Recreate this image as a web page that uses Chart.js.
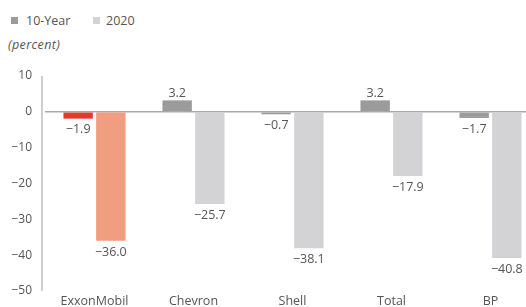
<!DOCTYPE html>
<html>
<head>
<meta charset="utf-8">
<script src="https://cdn.jsdelivr.net/npm/chart.js@4"></script>
<style>
  body { margin: 0; background: #fff; font-family: "Open Sans", sans-serif; }
  #wrap { position: relative; width: 526px; height: 307px; overflow: hidden; }
  .lg { position: absolute; top: 12px; font-size: 12.5px; color: #555; line-height: 17px; }
  .sw { position: absolute; top: 17px; width: 7px; height: 7px; }
  #unit { position: absolute; left: 8px; top: 36px; font-size: 12.5px; font-style: italic; color: #555; letter-spacing: 0.4px; }
  #c { position: absolute; left: 0; top: 0; }
</style>
</head>
<body>
<div id="wrap">
  <div class="sw" style="left:11px; background:#9b9b9b"></div>
  <div class="lg" style="left:26px">10-Year</div>
  <div class="sw" style="left:93px; background:#d3d3d5"></div>
  <div class="lg" style="left:106px">2020</div>
  <div id="unit">(percent)</div>
  <canvas id="c" width="540" height="319"></canvas>
</div>
<script>
// data
var companies = ['ExxonMobil', 'Chevron', 'Shell', 'Total', 'BP'];
var tenYear = [-1.9, 3.2, -0.7, 3.2, -1.7];
var year2020 = [-36.0, -25.7, -38.1, -17.9, -40.8];
var yTicks = [10, 0, -10, -20, -30, -40, -50];

// ExxonMobil is highlighted in red
var tenYearColors = ['#e23b2e', '#9b9b9b', '#9b9b9b', '#9b9b9b', '#9b9b9b'];
var year2020Colors = ['#f09d80', '#d3d3d5', '#d3d3d5', '#d3d3d5', '#d3d3d5'];

function fmt(v) {
    var s = Math.abs(v).toFixed(1);
    return v < 0 ? '\u2212' + s : s;
}

// y axis line sits a little left of the first bar group
var axisLine = {
    id: 'axisLine',
    beforeDatasetsDraw: function(chart) {
        var a = chart.chartArea, ctx = chart.ctx;
        ctx.save();
        ctx.strokeStyle = '#cfcfcf';
        ctx.lineWidth = 2;
        ctx.beginPath();
        ctx.moveTo(a.left - 3, a.top);
        ctx.lineTo(a.left - 3, a.bottom);
        ctx.stroke();
        ctx.restore();
    }
};

// values above positive bars, below negative ones
var valueLabels = {
    id: 'valueLabels',
    afterDatasetsDraw: function(chart) {
        var ctx = chart.ctx;
        ctx.save();
        ctx.font = '12.5px "Open Sans", sans-serif';
        ctx.fillStyle = '#555';
        ctx.textAlign = 'center';
        chart.data.datasets.forEach(function(ds, i) {
            chart.getDatasetMeta(i).data.forEach(function(bar, j) {
                var v = ds.data[j];
                if (v >= 0) {
                    ctx.textBaseline = 'bottom';
                    ctx.fillText(fmt(v), bar.x, bar.y - 1);
                } else {
                    ctx.textBaseline = 'top';
                    ctx.fillText(fmt(v), bar.x, bar.y + 5);
                }
            });
        });
        ctx.restore();
    }
};

new Chart(document.getElementById('c'), {
    type: 'bar',
    data: {
        labels: companies,
        datasets: [
            { label: '10-Year', data: tenYear, backgroundColor: tenYearColors },
            { label: '2020', data: year2020, backgroundColor: year2020Colors }
        ]
    },
    options: {
        responsive: false,
        animation: false,
        layout: { padding: { top: 76, right: 0, left: 0, bottom: 0 } },
        datasets: { bar: { barPercentage: 0.9, categoryPercentage: 0.66 } },
        plugins: { legend: { display: false }, tooltip: { enabled: false } },
        scales: {
            x: {
                afterFit: function(s) { s.height = 28; },
                grid: { display: false, drawTicks: false },
                border: { display: false },
                ticks: { color: '#555', font: { family: 'Open Sans', size: 12.5 }, padding: 3 }
            },
            y: {
                min: -50,
                max: 10,
                afterFit: function(s) { s.width = 45; },
                afterBuildTicks: function(s) { s.ticks = yTicks.map(function(v) { return { value: v }; }); },
                border: { display: false },
                grid: {
                    drawTicks: false,
                    color: function(c) { return c.tick && c.tick.value === 0 ? '#a9a9a9' : 'rgba(0,0,0,0)'; },
                    lineWidth: 1.5
                },
                ticks: {
                    color: '#555',
                    font: { family: 'Open Sans', size: 12 },
                    padding: 13,
                    callback: function(v) { return v < 0 ? '\u2212' + Math.abs(v) : String(v); }
                }
            }
        }
    },
    plugins: [axisLine, valueLabels]
});
</script>
</body>
</html>
